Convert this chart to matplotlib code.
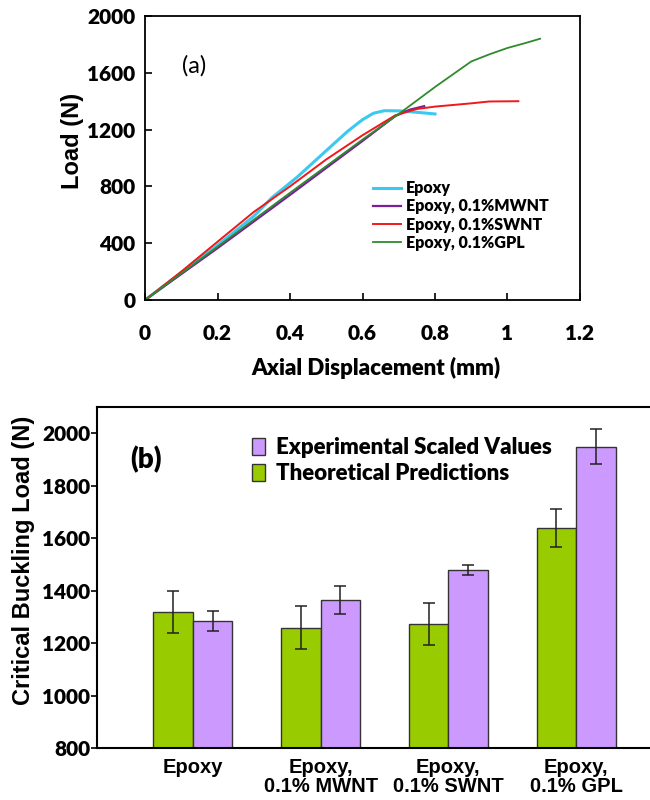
import matplotlib.pyplot as plt
import numpy as np

CAL = ["Lato", "DejaVu Sans"]
ARIAL = ["Liberation Sans", "DejaVu Sans"]

# panel (a): load-displacement curves
epoxy_x = [0, 0.1, 0.2, 0.3, 0.35, 0.42, 0.51, 0.56, 0.60, 0.63, 0.66, 0.70, 0.75, 0.80]
epoxy_y = [0, 190, 385, 590, 720, 866, 1075, 1190, 1270, 1315, 1333, 1332, 1322, 1310]
mwnt_x = [0, 0.2, 0.4, 0.6, 0.69, 0.73, 0.77]
mwnt_y = [0, 365, 740, 1120, 1295, 1340, 1365]
swnt_x = [0, 0.1, 0.2, 0.3, 0.4, 0.5, 0.6, 0.69, 0.75, 0.8, 0.9, 0.95, 1.03]
swnt_y = [0, 200, 410, 620, 800, 990, 1160, 1300, 1345, 1362, 1385, 1398, 1400]
gpl_x = [0, 0.2, 0.4, 0.6, 0.7, 0.8, 0.9, 0.95, 1.0, 1.05, 1.09]
gpl_y = [0, 375, 755, 1130, 1310, 1500, 1680, 1730, 1775, 1810, 1840]
curve_labels = ["Epoxy", "Epoxy, 0.1%MWNT", "Epoxy, 0.1%SWNT", "Epoxy, 0.1%GPL"]

# panel (b): critical buckling load
categories = ["Epoxy", "Epoxy,\n0.1% MWNT", "Epoxy,\n0.1% SWNT", "Epoxy,\n0.1% GPL"]
theory = [1318, 1259, 1273, 1638]
theory_err = [79, 82, 80, 72]
experiment = [1284, 1364, 1478, 1949]
experiment_err = [39, 54, 20, 67]

fig = plt.figure(figsize=(6.5, 8), dpi=100)

# ---- (a)
ax = fig.add_axes([145 / 650, 1 - 300 / 800, 435 / 650, 284 / 800])
curves = [(epoxy_x, epoxy_y, "#3cc8f0", 2.2), (mwnt_x, mwnt_y, "#7a1f9a", 1.6),
          (swnt_x, swnt_y, "#f01818", 1.4), (gpl_x, gpl_y, "#2e8b2e", 1.3)]
for (x, y, c, lw), lab in zip(curves, curve_labels):
    ax.plot(x, y, color=c, lw=lw, label=lab)
ax.set_xlim(0, 1.2)
ax.set_ylim(0, 2000)
ax.set_xticks(np.arange(0, 1.21, 0.2))
ax.set_xticklabels(["0", "0.2", "0.4", "0.6", "0.8", "1", "1.2"])
ax.set_yticks(np.arange(0, 2001, 400))
ax.tick_params(direction="in", length=5, width=1.2, labelsize=15)
ax.tick_params(axis="x", pad=17)
ax.tick_params(axis="y", pad=7)
for lab in ax.get_xticklabels() + ax.get_yticklabels():
    lab.set_family(CAL)
    lab.set_fontweight("heavy")
for s in ax.spines.values():
    s.set_linewidth(1.3)
ax.set_xlabel("Axial Displacement (mm)", family=CAL, fontweight="heavy", fontsize=16)
ax.xaxis.set_label_coords(0.53, -0.2)
ax.set_ylabel("Load (N)", family=ARIAL, fontweight="bold", fontsize=17)
ax.yaxis.set_label_coords(-0.14, 0.56)
ax.text(0.085, 0.8, "(a)", transform=ax.transAxes, family=CAL, fontsize=17)
leg = ax.legend(loc="lower left", bbox_to_anchor=(0.505, 0.145), frameon=False,
                prop={"family": CAL, "weight": "heavy", "size": 11.5},
                handlelength=1.8, handletextpad=0.3, labelspacing=0.14, borderpad=0)

# ---- (b)
bx = fig.add_axes([97 / 650, 1 - 748 / 800, 575 / 650, 341 / 800])
pos = np.arange(len(categories))
w = 0.31
ek = dict(ecolor="#222222", elinewidth=1.1, capsize=4, capthick=1.1)
bx.bar(pos - w / 2, theory, w, yerr=theory_err, color="#99cc00", edgecolor="#333333",
       linewidth=1, label="Theoretical Predictions", error_kw=ek)
bx.bar(pos + w / 2, experiment, w, yerr=experiment_err, color="#cc99ff", edgecolor="#333333",
       linewidth=1, label="Experimental Scaled Values", error_kw=ek)
bx.set_xlim(-0.75, 3.75)
bx.set_ylim(800, 2100)
bx.set_yticks(np.arange(800, 2001, 200))
bx.set_xticks(pos)
bx.set_xticklabels(categories, family=ARIAL, fontweight="bold", fontsize=14.5, linespacing=1.0)
bx.tick_params(axis="x", length=0, pad=7)
bx.tick_params(axis="y", direction="out", length=4, width=1.2, labelsize=15, pad=1)
for lab in bx.get_yticklabels():
    lab.set_family(CAL)
    lab.set_fontweight("heavy")
for s in bx.spines.values():
    s.set_linewidth(1.5)
bx.set_ylabel("Critical Buckling Load (N)", family=ARIAL, fontweight="bold", fontsize=17)
bx.yaxis.set_label_coords(-0.108, 0.55)
bx.text(0.058, 0.82, "(b)", transform=bx.transAxes, family=CAL, fontweight="heavy", fontsize=20)
h, l = bx.get_legend_handles_labels()
bx.legend(h[::-1], l[::-1], loc="upper left", bbox_to_anchor=(0.25, 0.945), frameon=False,
          prop={"family": CAL, "weight": "heavy", "size": 16},
          handlelength=0.6, handleheight=0.8, handletextpad=0.5, labelspacing=0.25, borderpad=0)

fig.savefig("out.png", dpi=100)
